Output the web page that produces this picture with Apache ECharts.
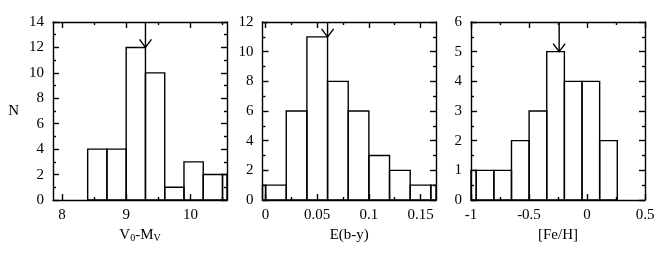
<!DOCTYPE html>
<html><head><meta charset="utf-8">
<script src="https://cdn.jsdelivr.net/npm/echarts@6/dist/echarts.min.js"></script>
<style>html,body{margin:0;padding:0;background:#fff}#c{width:664px;height:254px}</style>
</head><body><div id="c"></div>
<script>
// Panel 1: V0-MV histogram (bin lower edge, upper edge, count)
const p1Lo = [8.4, 8.7, 9.0, 9.3, 9.6, 9.9, 10.2, 10.5];
const p1Hi = [8.7, 9.0, 9.3, 9.6, 9.9, 10.2, 10.5, 10.8];
const p1N  = [4, 4, 12, 10, 1, 3, 2, 2];
const p1XTicks = [8, 9, 10];
const p1XMinor = [8.5, 9.5, 10.5];
const p1XRange = [7.86, 10.57];
const p1YRange = [0, 14];
const p1YStep = 2;
const p1Arrow = [9.3, 12];

// Panel 2: E(b-y) histogram
const p2Lo = [-0.02, 0, 0.02, 0.04, 0.06, 0.08, 0.10, 0.12, 0.14, 0.16];
const p2Hi = [0, 0.02, 0.04, 0.06, 0.08, 0.10, 0.12, 0.14, 0.16, 0.18];
const p2N  = [1, 1, 6, 11, 8, 6, 3, 2, 1, 1];
const p2XTicks = [0, 0.05, 0.1, 0.15];
const p2XMinor = [0.025, 0.075, 0.125];
const p2XRange = [-0.003, 0.165];
const p2YRange = [0, 12];
const p2YStep = 2;
const p2Arrow = [0.06, 11];

// Panel 3: [Fe/H] histogram
const p3Lo = [-1.107, -0.955, -0.803, -0.651, -0.499, -0.347, -0.195, -0.043, 0.109];
const p3Hi = [-0.955, -0.803, -0.651, -0.499, -0.347, -0.195, -0.043, 0.109, 0.261];
const p3N  = [1, 1, 1, 2, 3, 5, 4, 4, 2];
const p3XTicks = [-1, -0.5, 0, 0.5];
const p3XMinor = [-0.75, -0.25, 0.25];
const p3XRange = [-1, 0.5];
const p3YRange = [0, 6];
const p3YStep = 1;
const p3Arrow = [-0.24, 5];

const FONT = '"Liberation Serif", "DejaVu Serif", serif';
const BLACK = '#000';
const LW = 1.4;

const panels = [
  {lo: p1Lo, hi: p1Hi, n: p1N, xt: p1XTicks, xm: p1XMinor, xr: p1XRange, yr: p1YRange, ys: p1YStep, arrow: p1Arrow,
   name: '{a|V}{s|0}{a|-M}{s|V}', left: 53, width: 174},
  {lo: p2Lo, hi: p2Hi, n: p2N, xt: p2XTicks, xm: p2XMinor, xr: p2XRange, yr: p2YRange, ys: p2YStep, arrow: p2Arrow,
   name: '{a|E(b-y)}', left: 262.5, width: 173.5},
  {lo: p3Lo, hi: p3Hi, n: p3N, xt: p3XTicks, xm: p3XMinor, xr: p3XRange, yr: p3YRange, ys: p3YStep, arrow: p3Arrow,
   name: '{a|[Fe/H]}', left: 471, width: 174}
];

const grids = [], xAxes = [], yAxes = [], series = [];
const lineStyle = {color: BLACK, width: LW};
const rich = {
  a: {fontSize: 15, fontFamily: FONT, color: BLACK, lineHeight: 18, verticalAlign: 'bottom'},
  s: {fontSize: 10, fontFamily: FONT, color: BLACK, lineHeight: 4, verticalAlign: 'bottom'}
};

panels.forEach((p, g) => {
  grids.push({left: p.left, top: 22, width: p.width, height: 178, containLabel: false});
  const xBase = {gridIndex: g, type: 'value', min: p.xr[0], max: p.xr[1], splitLine: {show: false}};
  xAxes.push(Object.assign({}, xBase, {
    position: 'bottom',
    axisLine: {show: true, onZero: false, lineStyle},
    axisTick: {show: true, inside: true, length: 6, customValues: p.xt, lineStyle},
    axisLabel: {show: true, customValues: p.xt, fontSize: 15, fontFamily: FONT, color: BLACK, margin: 8,
      formatter: v => String(v)},
    name: p.name, nameLocation: 'middle', nameGap: 20,
    nameTextStyle: {rich: rich}
  }));
  xAxes.push(Object.assign({}, xBase, {
    position: 'bottom',
    axisLine: {show: false, onZero: false},
    axisTick: {show: true, inside: true, length: 3, customValues: p.xm, lineStyle},
    axisLabel: {show: false}
  }));
  xAxes.push(Object.assign({}, xBase, {
    position: 'top',
    axisLine: {show: true, onZero: false, lineStyle},
    axisTick: {show: true, inside: true, length: 6, customValues: p.xt, lineStyle},
    axisLabel: {show: false}
  }));
  xAxes.push(Object.assign({}, xBase, {
    position: 'top',
    axisLine: {show: false, onZero: false},
    axisTick: {show: true, inside: true, length: 3, customValues: p.xm, lineStyle},
    axisLabel: {show: false}
  }));
  const yBase = {gridIndex: g, type: 'value', min: p.yr[0], max: p.yr[1], interval: p.ys, splitLine: {show: false},
    axisLine: {show: true, onZero: false, lineStyle},
    axisTick: {show: true, inside: true, length: 6, lineStyle},
    minorTick: {show: true, splitNumber: 2, length: 3, lineStyle},
    minorSplitLine: {show: false}};
  yAxes.push(Object.assign({}, yBase, {
    position: 'left',
    axisLabel: {show: true, fontSize: 15, fontFamily: FONT, color: BLACK, margin: 9},
    name: g === 0 ? 'N' : '', nameLocation: 'middle', nameRotate: 0, nameGap: 34,
    nameTextStyle: {fontSize: 15, fontFamily: FONT, color: BLACK}
  }));
  yAxes.push(Object.assign({}, yBase, {position: 'right', axisLabel: {show: false}}));

  const xi = g * 4, yi = g * 2;
  series.push({
    type: 'custom', xAxisIndex: xi, yAxisIndex: yi, silent: true,
    data: p.lo.map((v, i) => [v, p.hi[i], p.n[i]]),
    encode: {x: [0, 1], y: 2},
    renderItem: function (params, api) {
      const a = api.coord([api.value(0), 0]);
      const b = api.coord([api.value(1), api.value(2)]);
      const cs = params.coordSys;
      const rect = echarts.graphic.clipRectByRect(
        {x: a[0], y: b[1], width: b[0] - a[0], height: a[1] - b[1]},
        {x: cs.x, y: cs.y, width: cs.width, height: cs.height});
      if (!rect) return;
      return {type: 'rect', shape: rect, style: {fill: 'none', stroke: BLACK, lineWidth: LW}};
    }
  });
  series.push({
    type: 'custom', xAxisIndex: xi, yAxisIndex: yi, silent: true,
    data: [p.arrow],
    encode: {x: 0, y: 1},
    renderItem: function (params, api) {
      const pt = api.coord([api.value(0), api.value(1)]);
      const top = params.coordSys.y;
      return {type: 'group', children: [
        {type: 'line', shape: {x1: pt[0], y1: top, x2: pt[0], y2: pt[1]}, style: {stroke: BLACK, lineWidth: LW}},
        {type: 'polyline', shape: {points: [[pt[0] - 6, pt[1] - 8], [pt[0], pt[1]], [pt[0] + 6, pt[1] - 8]]},
          style: {stroke: BLACK, lineWidth: LW, fill: 'none'}}
      ]};
    }
  });
});

const chart = echarts.init(document.getElementById('c'), null, {renderer: 'canvas'});
chart.setOption({
  animation: false,
  backgroundColor: '#fff',
  grid: grids, xAxis: xAxes, yAxis: yAxes, series: series
});
</script>
</body></html>
